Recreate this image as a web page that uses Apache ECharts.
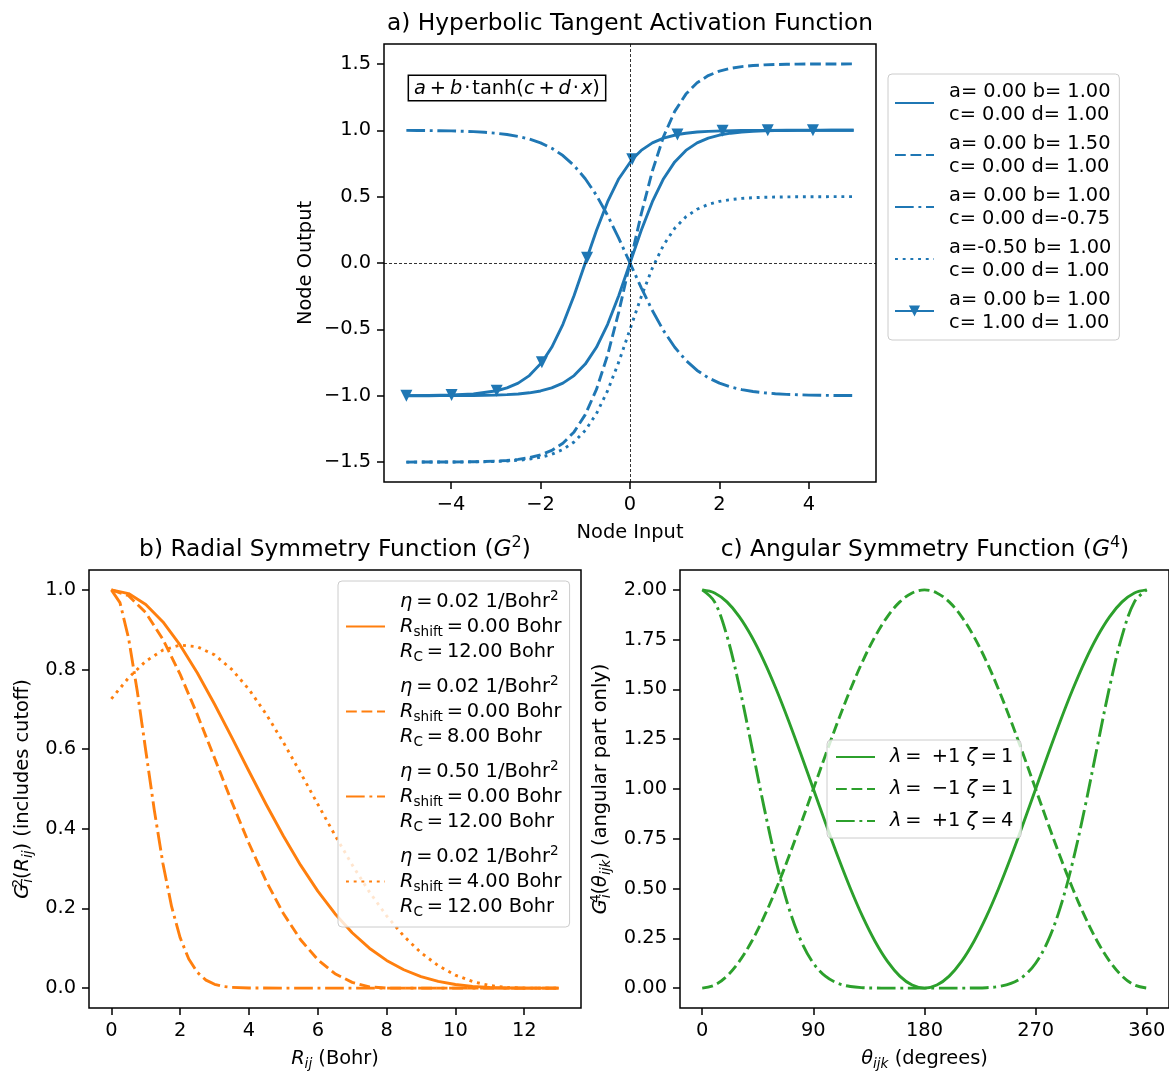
<!DOCTYPE html>
<html><head><meta charset="utf-8">
<script src="https://cdn.jsdelivr.net/npm/echarts@6/dist/echarts.min.js"></script>
<style>html,body{margin:0;padding:0;background:#fff;}#c{width:1169px;height:1072px;}</style>
</head><body><div id="c"></div>
<script>
// ---------- data ----------
// a) tanh panel
const xTanh = [-5,-4.75,-4.5,-4.25,-4,-3.75,-3.5,-3.25,-3,-2.75,-2.5,-2.25,-2,-1.75,-1.5,-1.25,-1,-0.75,-0.5,-0.25,0,0.25,0.5,0.75,1,1.25,1.5,1.75,2,2.25,2.5,2.75,3,3.25,3.5,3.75,4,4.25,4.5,4.75,5];
const yTanhA = [-0.9999,-0.9999,-0.9998,-0.9996,-0.9993,-0.9989,-0.9982,-0.9970,-0.9951,-0.9919,-0.9866,-0.9780,-0.9640,-0.9414,-0.9051,-0.8483,-0.7616,-0.6351,-0.4621,-0.2449,0,0.2449,0.4621,0.6351,0.7616,0.8483,0.9051,0.9414,0.9640,0.9780,0.9866,0.9919,0.9951,0.9970,0.9982,0.9989,0.9993,0.9996,0.9998,0.9999,0.9999];
const yTanhB = [-1.4999,-1.4998,-1.4997,-1.4994,-1.4990,-1.4984,-1.4973,-1.4955,-1.4927,-1.4879,-1.4799,-1.4670,-1.4460,-1.4121,-1.3577,-1.2725,-1.1424,-0.9527,-0.6932,-0.3674,0,0.3674,0.6932,0.9527,1.1424,1.2725,1.3577,1.4121,1.4460,1.4670,1.4799,1.4879,1.4927,1.4955,1.4973,1.4984,1.4990,1.4994,1.4997,1.4998,1.4999];
const yTanhC = [0.9989,0.9984,0.9977,0.9966,0.9951,0.9928,0.9896,0.9848,0.9780,0.9682,0.9540,0.9338,0.9051,0.8649,0.8093,0.7340,0.6351,0.5099,0.3584,0.1853,0,-0.1853,-0.3584,-0.5099,-0.6351,-0.7340,-0.8093,-0.8649,-0.9051,-0.9338,-0.9540,-0.9682,-0.9780,-0.9848,-0.9896,-0.9928,-0.9951,-0.9966,-0.9977,-0.9984,-0.9989];
const yTanhD = [-1.4999,-1.4999,-1.4998,-1.4996,-1.4993,-1.4989,-1.4982,-1.4970,-1.4951,-1.4919,-1.4866,-1.4780,-1.4640,-1.4414,-1.4051,-1.3483,-1.2616,-1.1351,-0.9621,-0.7449,-0.5,-0.2551,-0.0379,0.1351,0.2616,0.3483,0.4051,0.4414,0.4640,0.4780,0.4866,0.4919,0.4951,0.4970,0.4982,0.4989,0.4993,0.4996,0.4998,0.4999,0.4999];
const xTanhE = [-5,-4.5,-3.99,-3.5,-2.98,-2.75,-2.5,-2.25,-1.97,-1.75,-1.5,-1.25,-0.96,-0.75,-0.5,-0.25,0.05,0.25,0.5,0.75,1.06,1.25,1.5,1.75,2.07,2.5,3.08,3.5,4.09,4.5,5];
const yTanhE = [-0.9993,-0.9982,-0.9950,-0.9866,-0.9626,-0.9414,-0.9051,-0.8483,-0.7487,-0.6351,-0.4621,-0.2449,0.0400,0.2449,0.4621,0.6351,0.7818,0.8483,0.9051,0.9414,0.9681,0.9780,0.9866,0.9919,0.9957,0.9982,0.9994,0.9998,0.9999,1.0000,1.0000];
const markerXE = [-5,-3.99,-2.98,-1.97,-0.96,0.05,1.06,2.07,3.08,4.09];
const legendA = ['a= 0.00 b= 1.00\nc= 0.00 d= 1.00','a= 0.00 b= 1.50\nc= 0.00 d= 1.00','a= 0.00 b= 1.00\nc= 0.00 d=-0.75','a=-0.50 b= 1.00\nc= 0.00 d= 1.00','a= 0.00 b= 1.00\nc= 1.00 d= 1.00'];
const ticksAX = [-4,-2,0,2,4];
const ticksAY = [-1.5,-1,-0.5,0,0.5,1,1.5];

// b) radial panel
const xRad = [0,0.5,1,1.5,2,2.5,3,3.5,4,4.5,5,5.5,6,6.5,7,7.5,8,8.5,9,9.5,10,10.5,11,11.5,12,12.5,13];
const gRad1 = [1,0.9908,0.9635,0.9196,0.8613,0.7913,0.7129,0.6296,0.5446,0.4611,0.3818,0.3087,0.2434,0.1868,0.1391,0.1002,0.0695,0.0461,0.0290,0.0170,0.0091,0.0042,0.0015,0.0003,0,0,0];
const gRad2 = [1,0.9855,0.9429,0.8754,0.7879,0.6864,0.5775,0.4677,0.3631,0.2684,0.1872,0.1213,0.0713,0.0362,0.0143,0.0031,0,0,0,0,0,0,0,0,0,0,0];
const xRad3 = [0,0.25,0.5,0.75,1,1.25,1.5,1.75,2,2.25,2.5,2.75,3,3.25,3.5,4,5,6,7,8,9,10,11,12,13];
const gRad3 = [1,0.9682,0.8787,0.7476,0.5962,0.4457,0.3123,0.2051,0.1263,0.0729,0.0394,0.0200,0.0095,0.0042,0.0018,0.0003,0,0,0,0,0,0,0,0,0];
const gRad4 = [0.7262,0.7794,0.8210,0.8489,0.8613,0.8572,0.8367,0.8004,0.7500,0.6879,0.6170,0.5404,0.4616,0.3837,0.3095,0.2416,0.1815,0.1305,0.0888,0.0564,0.0326,0.0164,0.0064,0.0014,0,0,0];
const legendB = [
  '{i|η}\u2009=\u20090.02 1/Bohr{sup|2}\n{i|R}{sub|shift}\u2009=\u20090.00 Bohr\n{i|R}{sub|C}\u2009=\u200912.00 Bohr',
  '{i|η}\u2009=\u20090.02 1/Bohr{sup|2}\n{i|R}{sub|shift}\u2009=\u20090.00 Bohr\n{i|R}{sub|C}\u2009=\u20098.00 Bohr',
  '{i|η}\u2009=\u20090.50 1/Bohr{sup|2}\n{i|R}{sub|shift}\u2009=\u20090.00 Bohr\n{i|R}{sub|C}\u2009=\u200912.00 Bohr',
  '{i|η}\u2009=\u20090.02 1/Bohr{sup|2}\n{i|R}{sub|shift}\u2009=\u20094.00 Bohr\n{i|R}{sub|C}\u2009=\u200912.00 Bohr'];
const ticksBX = [0,2,4,6,8,10,12];
const ticksBY = [0,0.2,0.4,0.6,0.8,1.0];

// c) angular panel
const xAng = [0,10,20,30,40,50,60,70,80,90,100,110,120,130,140,150,160,170,180,190,200,210,220,230,240,250,260,270,280,290,300,310,320,330,340,350,360];
const gAngP1 = [2,1.9848,1.9397,1.8660,1.7660,1.6428,1.5,1.3420,1.1736,1.0,0.8264,0.6580,0.5,0.3572,0.2340,0.1340,0.0603,0.0152,0,0.0152,0.0603,0.1340,0.2340,0.3572,0.5,0.6580,0.8264,1.0,1.1736,1.3420,1.5,1.6428,1.7660,1.8660,1.9397,1.9848,2];
const gAngM1 = [0,0.0152,0.0603,0.1340,0.2340,0.3572,0.5,0.6580,0.8264,1.0,1.1736,1.3420,1.5,1.6428,1.7660,1.8660,1.9397,1.9848,2,1.9848,1.9397,1.8660,1.7660,1.6428,1.5,1.3420,1.1736,1.0,0.8264,0.6580,0.5,0.3572,0.2340,0.1340,0.0603,0.0152,0];
const gAngP4 = [2,1.9399,1.7695,1.5155,1.2159,0.9104,0.6328,0.4054,0.2371,0.125,0.0583,0.0234,0.0078,0.0020,0.0004,0,0,0,0,0,0,0,0.0004,0.0020,0.0078,0.0234,0.0583,0.125,0.2371,0.4054,0.6328,0.9104,1.2159,1.5155,1.7695,1.9399,2];
const legendC = ['{i|λ}\u2009=\u2009 +1 {i|ζ}\u2009=\u20091','{i|λ}\u2009=\u2009 −1 {i|ζ}\u2009=\u20091','{i|λ}\u2009=\u2009 +1 {i|ζ}\u2009=\u20094'];
const ticksCX = [0,90,180,270,360];
const ticksCY = [0,0.25,0.5,0.75,1,1.25,1.5,1.75,2];

// ---------- styling ----------
const FONT = 'DejaVu Sans';
const FS = 19.4, FT = 23.3, FSS = 13.6;
const C0 = '#1f77b4', C1 = '#ff7f0e', C2 = '#2ca02c';
const DASH = [10.8, 4.7], DASHDOT = [18.7, 4.7, 2.9, 4.7], DOT = [2.9, 4.8];
const LW = 2.9;
const pairs = (xs, ys) => xs.map((x, i) => [x, ys[i]]);
const fmt = d => v => (v < -1e-9 ? '\u2212' : '') + Math.abs(v).toFixed(d);
const rich = (lh) => ({
  i: {fontFamily: FONT, fontStyle: 'italic', fontSize: FS, lineHeight: lh, color: '#000'},
  sub: {fontFamily: FONT, fontSize: FSS, lineHeight: 14, verticalAlign: 'bottom', color: '#000'},
  subi: {fontFamily: FONT, fontStyle: 'italic', fontSize: FSS, lineHeight: 14, verticalAlign: 'bottom', color: '#000'},
  sup: {fontFamily: FONT, fontSize: FSS, lineHeight: 14, verticalAlign: 'top', color: '#000'},
  sup0: {fontFamily: FONT, fontSize: FSS, lineHeight: 14, verticalAlign: 'top', width: 1, color: '#000'}
});

function axisCfg(gi, min, max, ticks, dec, name, gap, rotate) {
  const c = {
    type: 'value', gridIndex: gi, min: min, max: max,
    axisLine: {show: false, onZero: false}, splitLine: {show: false},
    axisTick: {show: true, length: 7, customValues: ticks, lineStyle: {color: '#000', width: 1.5}},
    axisLabel: {customValues: ticks, formatter: fmt(dec), fontFamily: FONT, fontSize: FS, color: '#000', margin: 13},
    name: name, nameLocation: 'middle', nameGap: gap,
    nameTextStyle: {fontFamily: FONT, fontSize: FS, color: '#000', lineHeight: 24, rich: rich(24)}
  };
  if (rotate) c.nameRotate = 90;
  return c;
}
function line(name, xi, xs, ys, color, type, extra) {
  return Object.assign({
    name: name, type: 'line', xAxisIndex: xi, yAxisIndex: xi,
    data: pairs(xs, ys), symbol: 'none', showSymbol: false,
    smooth: false, animation: false, z: 3,
    lineStyle: {color: color, width: LW, type: type, join: 'round'},
    itemStyle: {color: color}
  }, extra || {});
}

const seriesE = line('a5', 0, xTanhE, yTanhE, C0, 'solid', {
  symbol: 'triangle', symbolRotate: 180, symbolSize: 12, showSymbol: true, showAllSymbol: true,
  data: xTanhE.map((x, i) => markerXE.includes(x) ? [x, yTanhE[i]] : {value: [x, yTanhE[i]], symbol: 'none'})
});

const noMark = n => ({name: n, itemStyle: {opacity: 0}});
const legendBase = {
  orient: 'vertical', selectedMode: false,
  backgroundColor: 'rgba(255,255,255,0.8)', borderColor: '#cccccc', borderWidth: 1, borderRadius: 4,
  itemWidth: 39, itemHeight: 14
};
const smoothC = {smooth: 0.35};

const option = {
  animation: false,
  backgroundColor: '#fff',
  grid: [
    {left: 384, top: 44, width: 492, height: 438, show: true, borderColor: '#000', borderWidth: 1.5, backgroundColor: 'transparent'},
    {left: 89, top: 570, width: 492, height: 439, show: true, borderColor: '#000', borderWidth: 1.5, backgroundColor: 'transparent'},
    {left: 680, top: 570, width: 490, height: 439, show: true, borderColor: '#000', borderWidth: 1.5, backgroundColor: 'transparent'}
  ],
  xAxis: [
    axisCfg(0, -5.5, 5.5, ticksAX, 0, 'Node Input', 39),
    axisCfg(1, -0.65, 13.65, ticksBX, 0, '{i|R}{subi|ij} (Bohr)', 39),
    axisCfg(2, -18, 378, ticksCX, 0, '{i|θ}{subi|ijk} (degrees)', 39)
  ],
  yAxis: [
    axisCfg(0, -1.65, 1.65, ticksAY, 1, 'Node Output', 66, true),
    axisCfg(1, -0.05, 1.05, ticksBY, 1, '{i|G}{sup0|2}{subi|i}({i|R}{subi|ij}) (includes cutoff)', 54, true),
    axisCfg(2, -0.1, 2.1, ticksCY, 2, '{i|G}{sup0|4}{subi|i}({i|θ}{subi|ijk}) (angular part only)', 67, true)
  ],
  legend: [
    Object.assign({}, legendBase, {
      data: [noMark('a1'), noMark('a2'), noMark('a3'), noMark('a4'), 'a5'], left: 888, top: 74, itemGap: 6, padding: [6, 8, 6, 6],
      backgroundColor: '#fff',
      formatter: n => legendA[+n.slice(1) - 1],
      textStyle: {fontFamily: FONT, fontSize: FS, color: '#000', lineHeight: 23, padding: [0, 0, 0, 10]}
    }),
    Object.assign({}, legendBase, {
      data: [noMark('b1'), noMark('b2'), noMark('b3'), noMark('b4')], left: 338, top: 581, itemGap: 10, padding: [8, 8, 8, 7],
      formatter: n => legendB[+n.slice(1) - 1],
      textStyle: {fontFamily: FONT, fontSize: FS, color: '#000', lineHeight: 25, padding: [0, 0, 0, 10], rich: rich(25)}
    }),
    Object.assign({}, legendBase, {
      data: [noMark('c1'), noMark('c2'), noMark('c3')], left: 827, top: 740, itemGap: 12, padding: [7, 8, 7, 8],
      formatter: n => legendC[+n.slice(1) - 1],
      textStyle: {fontFamily: FONT, fontSize: FS, color: '#000', lineHeight: 20, padding: [0, 0, 0, 10], rich: rich(20)}
    })
  ],
  graphic: [
    {type: 'text', x: 630, y: 24, z: 10, style: {text: 'a) Hyperbolic Tangent Activation Function', fontFamily: FONT, fontSize: FT, fill: '#000', align: 'center', verticalAlign: 'middle'}},
    {type: 'text', x: 335, y: 550, z: 10, style: {text: 'b) Radial Symmetry Function ({gi|G}{gs|2})', fontFamily: FONT, fontSize: FT, fill: '#000', align: 'center', verticalAlign: 'middle', lineHeight: 30,
      rich: {gi: {fontFamily: FONT, fontStyle: 'italic', fontSize: FT, lineHeight: 30}, gs: {fontFamily: FONT, fontSize: 16, lineHeight: 16, verticalAlign: 'top'}}}},
    {type: 'text', x: 925, y: 550, z: 10, style: {text: 'c) Angular Symmetry Function ({gi|G}{gs|4})', fontFamily: FONT, fontSize: FT, fill: '#000', align: 'center', verticalAlign: 'middle', lineHeight: 30,
      rich: {gi: {fontFamily: FONT, fontStyle: 'italic', fontSize: FT, lineHeight: 30}, gs: {fontFamily: FONT, fontSize: 16, lineHeight: 16, verticalAlign: 'top'}}}},
    {type: 'text', x: 507, y: 88, z: 10, style: {text: '{i|a}\u2009+\u2009{i|b}\u200a·\u200atanh({i|c}\u2009+\u2009{i|d}\u200a·\u200a{i|x})', fontFamily: FONT, fontSize: FS, fill: '#000', align: 'center', verticalAlign: 'middle',
      backgroundColor: '#fff', borderColor: '#000', borderWidth: 1.5, padding: [3, 5, 2, 5],
      rich: {i: {fontFamily: FONT, fontStyle: 'italic', fontSize: FS}}}}
  ],
  series: [
    line('a1', 0, xTanh, yTanhA, C0, 'solid', {
      markLine: {silent: true, symbol: 'none', label: {show: false}, animation: false,
        lineStyle: {color: '#000', width: 0.8, type: [3, 2]}, data: [{xAxis: 0}, {yAxis: 0}]}
    }),
    line('a2', 0, xTanh, yTanhB, C0, DASH),
    line('a3', 0, xTanh, yTanhC, C0, DASHDOT),
    line('a4', 0, xTanh, yTanhD, C0, DOT),
    seriesE,
    line('b1', 1, xRad, gRad1, C1, 'solid'),
    line('b2', 1, xRad, gRad2, C1, DASH),
    line('b3', 1, xRad3, gRad3, C1, DASHDOT),
    line('b4', 1, xRad, gRad4, C1, DOT),
    line('c1', 2, xAng, gAngP1, C2, 'solid', smoothC),
    line('c2', 2, xAng, gAngM1, C2, DASH, smoothC),
    line('c3', 2, xAng, gAngP4, C2, DASHDOT, smoothC)
  ]
};

const chart = echarts.init(document.getElementById('c'), null, {renderer: 'canvas'});
chart.setOption(option);
</script></body></html>
